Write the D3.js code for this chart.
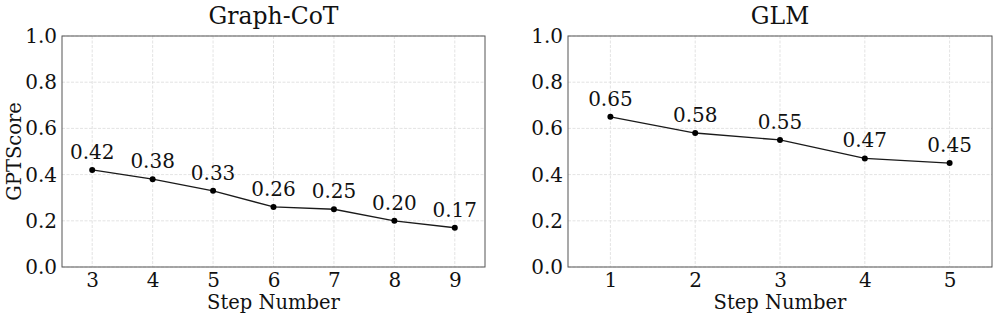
<!DOCTYPE html>
<html>
<head>
<meta charset="utf-8">
<script src="https://cdn.jsdelivr.net/npm/d3@7"></script>
<style>
  body { margin: 0; background: #fff; }
  text { font-family: "DejaVu Serif", serif; fill: #111; }
</style>
</head>
<body>
<div id="chart"></div>
<script>
// data
var cotSteps = [3, 4, 5, 6, 7, 8, 9];
var cotScores = [0.42, 0.38, 0.33, 0.26, 0.25, 0.20, 0.17];
var glmSteps = [1, 2, 3, 4, 5];
var glmScores = [0.65, 0.58, 0.55, 0.47, 0.45];
var yTicks = [0, 0.2, 0.4, 0.6, 0.8, 1.0];

var svgWidth = 997;
var svgHeight = 318;

var svg = d3.select("#chart")
  .append("svg")
  .attr("width", svgWidth)
  .attr("height", svgHeight);

var panels = [
  { title: "Graph-CoT", steps: cotSteps, scores: cotScores, left: 62, right: 485, showY: true },
  { title: "GLM", steps: glmSteps, scores: glmScores, left: 568, right: 992, showY: false }
];

var plotTop = 36, plotBottom = 267;

panels.forEach(function(p) {
  var x = d3.scaleLinear()
    .domain([d3.min(p.steps) - 0.5, d3.max(p.steps) + 0.5])
    .range([p.left, p.right]);
  var y = d3.scaleLinear().domain([0, 1]).range([plotBottom, plotTop]);

  var g = svg.append("g");

  // grid
  g.selectAll(".gx").data(p.steps).enter().append("line")
    .attr("x1", d => x(d)).attr("x2", d => x(d))
    .attr("y1", plotTop).attr("y2", plotBottom)
    .attr("stroke", "#dcdcdc").attr("stroke-width", 0.8)
    .attr("stroke-dasharray", "3,1.5");
  g.selectAll(".gy").data(yTicks).enter().append("line")
    .attr("x1", p.left).attr("x2", p.right)
    .attr("y1", d => y(d)).attr("y2", d => y(d))
    .attr("stroke", "#dcdcdc").attr("stroke-width", 0.8)
    .attr("stroke-dasharray", "3,1.5");

  // axes (tick labels only)
  var xAxis = g.append("g")
    .attr("transform", `translate(0, ${plotBottom})`)
    .call(d3.axisBottom(x).tickValues(p.steps).tickFormat(d3.format("d")).tickSize(0).tickPadding(6));
  xAxis.select(".domain").remove();
  xAxis.selectAll("text").attr("font-size", 20).attr("font-family", "DejaVu Serif").attr("fill", "#111");

  var yAxis = g.append("g")
    .attr("transform", `translate(${p.left}, 0)`)
    .call(d3.axisLeft(y).tickValues(yTicks).tickFormat(d3.format(".1f")).tickSize(0).tickPadding(5));
  yAxis.select(".domain").remove();
  yAxis.selectAll("text").attr("font-size", 20).attr("font-family", "DejaVu Serif").attr("fill", "#111");

  // frame
  g.append("rect")
    .attr("x", p.left).attr("y", plotTop)
    .attr("width", p.right - p.left).attr("height", plotBottom - plotTop)
    .attr("fill", "none").attr("stroke", "#555").attr("stroke-width", 1);

  var pts = p.steps.map((s, i) => ({ s: s, v: p.scores[i] }));

  g.append("path")
    .datum(pts)
    .attr("fill", "none")
    .attr("stroke", "#1a1a1a")
    .attr("stroke-width", 1.3)
    .attr("d", d3.line().x(d => x(d.s)).y(d => y(d.v)));

  g.selectAll(".dot").data(pts).enter().append("circle")
    .attr("cx", d => x(d.s)).attr("cy", d => y(d.v))
    .attr("r", 3).attr("fill", "#000");

  g.selectAll(".lbl").data(pts).enter().append("text")
    .attr("x", d => x(d.s)).attr("y", d => y(d.v) - 11)
    .attr("text-anchor", "middle").attr("font-size", 20)
    .text(d => d3.format(".2f")(d.v));

  // title
  g.append("text")
    .attr("x", (p.left + p.right) / 2).attr("y", 24)
    .attr("text-anchor", "middle").attr("font-size", 23.5)
    .text(p.title);

  // x label
  g.append("text")
    .attr("x", (p.left + p.right) / 2).attr("y", 309)
    .attr("text-anchor", "middle").attr("font-size", 19.5)
    .text("Step Number");

  if (p.showY) {
    g.append("text")
      .attr("transform", `translate(21, ${(plotTop + plotBottom) / 2}) rotate(-90)`)
      .attr("text-anchor", "middle").attr("font-size", 19.5)
      .text("GPTScore");
  }
});
</script>
</body>
</html>
